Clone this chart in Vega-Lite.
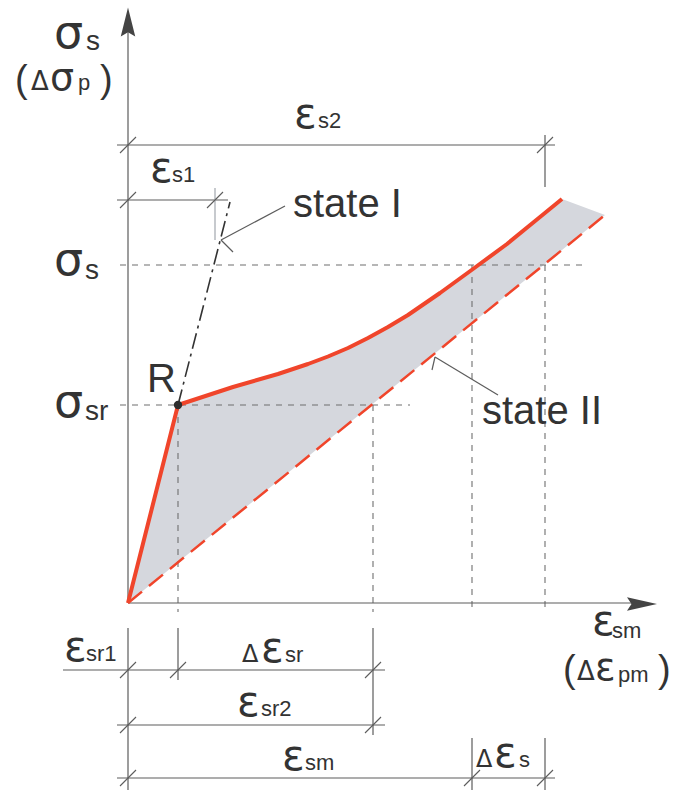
{
  "$schema": "https://vega.github.io/schema/vega-lite/v6.json",
  "width": 677,
  "height": 790,
  "autosize": {"type": "none"},
  "padding": 0,
  "background": "white",
  "config": {"view": {"stroke": null}},
  "datasets": {
    "band": [
      {"x": 0, "top": 0, "bottom": 0},
      {"x": 50, "top": 198, "bottom": 40.7},
      {"x": 105, "top": 216, "bottom": 85.4},
      {"x": 150, "top": 229, "bottom": 122.0},
      {"x": 180, "top": 239, "bottom": 146.4},
      {"x": 200, "top": 246.5, "bottom": 162.7},
      {"x": 220, "top": 255, "bottom": 179.0},
      {"x": 240, "top": 265, "bottom": 195.2},
      {"x": 260, "top": 276, "bottom": 211.5},
      {"x": 280, "top": 288, "bottom": 227.8},
      {"x": 312, "top": 310, "bottom": 253.8},
      {"x": 345, "top": 334, "bottom": 280.6},
      {"x": 379, "top": 359, "bottom": 308.3},
      {"x": 412, "top": 386, "bottom": 335.1},
      {"x": 434, "top": 404, "bottom": 353.0},
      {"x": 477, "top": 388, "bottom": 388}
    ],
    "tensionStiffening": [
      {"x": 0, "y": 0},
      {"x": 50, "y": 198},
      {"x": 105, "y": 216},
      {"x": 150, "y": 229},
      {"x": 180, "y": 239},
      {"x": 200, "y": 246.5},
      {"x": 220, "y": 255},
      {"x": 240, "y": 265},
      {"x": 260, "y": 276},
      {"x": 280, "y": 288},
      {"x": 312, "y": 310},
      {"x": 345, "y": 334},
      {"x": 379, "y": 359},
      {"x": 412, "y": 386},
      {"x": 434, "y": 404}
    ],
    "stateII": [
      {"x": 0, "y": 0},
      {"x": 477, "y": 388}
    ],
    "stateI": [
      {"x": 50, "y": 198, "x2": 102, "y2": 401}
    ],
    "frame": [
      {"x": 0, "y": 0, "x2": 0, "y2": 585},
      {"x": 0, "y": 0, "x2": 515, "y2": 0},
      {"x": -11, "y": 458, "x2": 427, "y2": 458},
      {"x": 417, "y": 416, "x2": 417, "y2": 468},
      {"x": -11, "y": 403, "x2": 100, "y2": 403},
      {"x": -65, "y": -67, "x2": 257, "y2": -67},
      {"x": -11, "y": -122, "x2": 257, "y2": -122},
      {"x": -11, "y": -175, "x2": 427, "y2": -175},
      {"x": 0, "y": -25, "x2": 0, "y2": -187},
      {"x": 50, "y": -25, "x2": 50, "y2": -77},
      {"x": 245, "y": -25, "x2": 245, "y2": -132},
      {"x": 344, "y": -135, "x2": 344, "y2": -187},
      {"x": 417, "y": -135, "x2": 417, "y2": -187}
    ],
    "faint": [
      {"x": 87, "y": 363, "x2": 87, "y2": 415}
    ],
    "ticks": [
      {"x": -8, "y": 450, "x2": 8, "y2": 466},
      {"x": 409, "y": 450, "x2": 425, "y2": 466},
      {"x": -8, "y": 395, "x2": 8, "y2": 411},
      {"x": 79, "y": 395, "x2": 95, "y2": 411},
      {"x": -8, "y": -75, "x2": 8, "y2": -59},
      {"x": 42, "y": -75, "x2": 58, "y2": -59},
      {"x": 237, "y": -75, "x2": 253, "y2": -59},
      {"x": -8, "y": -130, "x2": 8, "y2": -114},
      {"x": 237, "y": -130, "x2": 253, "y2": -114},
      {"x": -8, "y": -183, "x2": 8, "y2": -167},
      {"x": 336, "y": -183, "x2": 352, "y2": -167},
      {"x": 409, "y": -183, "x2": 425, "y2": -167}
    ],
    "guides": [
      {"x": -8, "y": 338, "x2": 457, "y2": 338},
      {"x": -8, "y": 198, "x2": 282, "y2": 198},
      {"x": 50, "y": 198, "x2": 50, "y2": -9},
      {"x": 245, "y": 198, "x2": 245, "y2": -9},
      {"x": 344, "y": 338, "x2": 344, "y2": -9},
      {"x": 417, "y": 338, "x2": 417, "y2": -9}
    ],
    "leaders": [
      {"x": 157, "y": 397, "x2": 93, "y2": 363},
      {"x": 93, "y": 363, "x2": 105, "y2": 351},
      {"x": 370, "y": 208, "x2": 307, "y2": 246},
      {"x": 307, "y": 246, "x2": 304, "y2": 233}
    ],
    "yArrow": [{"x": 0, "y": 581}],
    "xArrow": [{"x": 514, "y": -1}],
    "crackPoint": [{"x": 50, "y": 198}],
    "labels": [
      {"x": -74, "y": 555, "t": "σ", "kind": "sigma"},
      {"x": -74, "y": 328, "t": "σ", "kind": "sigma"},
      {"x": -74, "y": 186, "t": "σ", "kind": "sigma"},
      {"x": -78, "y": 513, "t": "σ", "kind": "sigmaSmall"},
      {"x": -42, "y": 553, "t": "s", "kind": "sigmaSub"},
      {"x": -43, "y": 324, "t": "s", "kind": "sigmaSub"},
      {"x": -43, "y": 183, "t": "sr", "kind": "sigmaSub"},
      {"x": -113, "y": 511, "t": "(", "kind": "paren"},
      {"x": -28, "y": 511, "t": ")", "kind": "paren"},
      {"x": 435, "y": -79, "t": "(", "kind": "paren"},
      {"x": 530, "y": -79, "t": ")", "kind": "paren"},
      {"x": -97, "y": 513, "t": "Δ", "kind": "deltaBig"},
      {"x": 449, "y": -77, "t": "Δ", "kind": "deltaBig"},
      {"x": 114, "y": -59, "t": "Δ", "kind": "delta"},
      {"x": 348, "y": -164, "t": "Δ", "kind": "delta"},
      {"x": 166, "y": 475, "t": "ε", "kind": "eps"},
      {"x": 22, "y": 421, "t": "ε", "kind": "eps"},
      {"x": 464, "y": -32, "t": "ε", "kind": "eps"},
      {"x": 467, "y": -77, "t": "ε", "kind": "epsSmall"},
      {"x": -64, "y": -58, "t": "ε", "kind": "eps"},
      {"x": 133, "y": -59, "t": "ε", "kind": "eps"},
      {"x": 109, "y": -113, "t": "ε", "kind": "eps"},
      {"x": 154, "y": -167, "t": "ε", "kind": "eps"},
      {"x": 366, "y": -164, "t": "ε", "kind": "eps"},
      {"x": 190, "y": 475, "t": "s2", "kind": "sub"},
      {"x": 44, "y": 421, "t": "s1", "kind": "sub"},
      {"x": 484, "y": -35, "t": "sm", "kind": "sub"},
      {"x": 490, "y": -79, "t": "pm", "kind": "sub"},
      {"x": -42, "y": -58, "t": "sr1", "kind": "sub"},
      {"x": 157, "y": -59, "t": "sr", "kind": "sub"},
      {"x": 133, "y": -113, "t": "sr2", "kind": "sub"},
      {"x": 177, "y": -167, "t": "sm", "kind": "sub"},
      {"x": 391, "y": -164, "t": "s", "kind": "sub"},
      {"x": -50, "y": 513, "t": "p", "kind": "sub"},
      {"x": 165, "y": 386, "t": "state I", "kind": "caption"},
      {"x": 354, "y": 179, "t": "state II", "kind": "caption"},
      {"x": 19, "y": 211, "t": "R", "kind": "caption"}
    ]
  },
  "encoding": {
    "x": {"field": "x", "type": "quantitative", "scale": {"domain": [-128, 549], "nice": false, "zero": false}, "axis": null},
    "y": {"field": "y", "type": "quantitative", "scale": {"domain": [-187, 603], "nice": false, "zero": false}, "axis": null}
  },
  "layer": [
    {
      "data": {"name": "band"},
      "mark": {"type": "area", "color": "#d5d7dd", "opacity": 1},
      "encoding": {
        "y": {"field": "top", "type": "quantitative"},
        "y2": {"field": "bottom"}
      }
    },
    {
      "data": {"name": "guides"},
      "mark": {"type": "rule", "color": "#6f6f6f", "strokeWidth": 1.1, "strokeDash": [6, 6]},
      "encoding": {"x2": {"field": "x2"}, "y2": {"field": "y2"}}
    },
    {
      "data": {"name": "frame"},
      "mark": {"type": "rule", "color": "#5c5c5c", "strokeWidth": 1.2},
      "encoding": {"x2": {"field": "x2"}, "y2": {"field": "y2"}}
    },
    {
      "data": {"name": "faint"},
      "mark": {"type": "rule", "color": "#b5b8be", "strokeWidth": 1.5},
      "encoding": {"x2": {"field": "x2"}, "y2": {"field": "y2"}}
    },
    {
      "data": {"name": "ticks"},
      "mark": {"type": "rule", "color": "#5c5c5c", "strokeWidth": 1.1},
      "encoding": {"x2": {"field": "x2"}, "y2": {"field": "y2"}}
    },
    {
      "data": {"name": "leaders"},
      "mark": {"type": "rule", "color": "#5c5c5c", "strokeWidth": 1.2},
      "encoding": {"x2": {"field": "x2"}, "y2": {"field": "y2"}}
    },
    {
      "data": {"name": "stateI"},
      "mark": {"type": "rule", "color": "#333333", "strokeWidth": 1.6, "strokeDash": [16, 5, 3, 5]},
      "encoding": {"x2": {"field": "x2"}, "y2": {"field": "y2"}}
    },
    {
      "data": {"name": "stateII"},
      "mark": {"type": "line", "color": "#f0452b", "strokeWidth": 2.5, "strokeDash": [18, 9]},
      "encoding": {}
    },
    {
      "data": {"name": "tensionStiffening"},
      "mark": {"type": "line", "color": "#f0452b", "strokeWidth": 4, "strokeJoin": "round"},
      "encoding": {}
    },
    {
      "data": {"name": "crackPoint"},
      "mark": {"type": "point", "filled": true, "color": "#2e2e2e", "size": 70, "opacity": 1},
      "encoding": {}
    },
    {
      "data": {"name": "yArrow"},
      "mark": {"type": "point", "shape": "M0,-1L0.5,1L0,0.7L-0.5,1Z", "size": 841, "filled": true, "color": "#444444", "opacity": 1, "strokeWidth": 0},
      "encoding": {}
    },
    {
      "data": {"name": "xArrow"},
      "mark": {"type": "point", "shape": "M1,0L-1,0.45L-0.7,0L-1,-0.45Z", "size": 900, "filled": true, "color": "#444444", "opacity": 1, "strokeWidth": 0},
      "encoding": {}
    },
    {
      "data": {"name": "labels"},
      "transform": [{"filter": "datum.kind === 'sigma'"}],
      "mark": {"type": "text", "align": "left", "baseline": "alphabetic", "font": "DejaVu Sans", "fontSize": 46, "color": "#333333"},
      "encoding": {"text": {"field": "t"}}
    },
    {
      "data": {"name": "labels"},
      "transform": [{"filter": "datum.kind === 'sigmaSmall'"}],
      "mark": {"type": "text", "align": "left", "baseline": "alphabetic", "font": "DejaVu Sans", "fontSize": 38, "color": "#333333"},
      "encoding": {"text": {"field": "t"}}
    },
    {
      "data": {"name": "labels"},
      "transform": [{"filter": "datum.kind === 'sigmaSub'"}],
      "mark": {"type": "text", "align": "left", "baseline": "alphabetic", "font": "Liberation Sans", "fontSize": 28, "color": "#333333"},
      "encoding": {"text": {"field": "t"}}
    },
    {
      "data": {"name": "labels"},
      "transform": [{"filter": "datum.kind === 'paren'"}],
      "mark": {"type": "text", "align": "left", "baseline": "alphabetic", "font": "Liberation Sans", "fontSize": 38, "color": "#333333"},
      "encoding": {"text": {"field": "t"}}
    },
    {
      "data": {"name": "labels"},
      "transform": [{"filter": "datum.kind === 'deltaBig'"}],
      "mark": {"type": "text", "align": "left", "baseline": "alphabetic", "font": "DejaVu Sans", "fontSize": 26, "color": "#333333"},
      "encoding": {"text": {"field": "t"}}
    },
    {
      "data": {"name": "labels"},
      "transform": [{"filter": "datum.kind === 'delta'"}],
      "mark": {"type": "text", "align": "left", "baseline": "alphabetic", "font": "DejaVu Sans", "fontSize": 24, "color": "#333333"},
      "encoding": {"text": {"field": "t"}}
    },
    {
      "data": {"name": "labels"},
      "transform": [{"filter": "datum.kind === 'eps'"}],
      "mark": {"type": "text", "align": "left", "baseline": "alphabetic", "font": "DejaVu Sans", "fontSize": 42, "color": "#333333"},
      "encoding": {"text": {"field": "t"}}
    },
    {
      "data": {"name": "labels"},
      "transform": [{"filter": "datum.kind === 'epsSmall'"}],
      "mark": {"type": "text", "align": "left", "baseline": "alphabetic", "font": "DejaVu Sans", "fontSize": 38, "color": "#333333"},
      "encoding": {"text": {"field": "t"}}
    },
    {
      "data": {"name": "labels"},
      "transform": [{"filter": "datum.kind === 'sub'"}],
      "mark": {"type": "text", "align": "left", "baseline": "alphabetic", "font": "Liberation Sans", "fontSize": 22, "color": "#333333"},
      "encoding": {"text": {"field": "t"}}
    },
    {
      "data": {"name": "labels"},
      "transform": [{"filter": "datum.kind === 'caption'"}],
      "mark": {"type": "text", "align": "left", "baseline": "alphabetic", "font": "Liberation Sans", "fontSize": 40, "color": "#333333"},
      "encoding": {"text": {"field": "t"}}
    }
  ]
}
